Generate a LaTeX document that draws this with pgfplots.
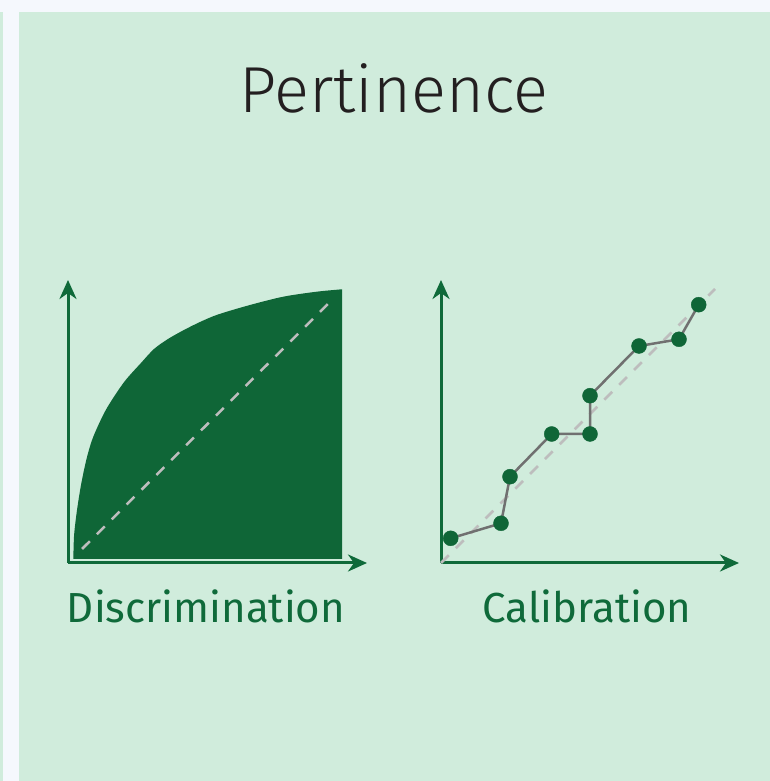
\documentclass[border=0pt]{standalone}
\usepackage{fontspec}
\setmainfont{Fira Sans}
\newfontfamily\titlefont{Fira Sans Light}
\usepackage{pgfplots}
\pgfplotsset{compat=1.18}
\usetikzlibrary{arrows.meta}
\definecolor{bggreen}{HTML}{D0ECDC}
\definecolor{bglight}{HTML}{F5F8FD}
\definecolor{dkgreen}{HTML}{0F6637}
\definecolor{axgreen}{HTML}{0F6A3A}
\definecolor{dashgray}{HTML}{BDBDBD}
\definecolor{linegray}{HTML}{707070}
\definecolor{titlecol}{HTML}{231F20}
\pgfplotsset{
  miniaxis/.style={
    scale only axis, clip=false,
    axis lines=left,
    axis line style={line width=3pt, color=axgreen, -{Stealth[length=19pt,width=17pt,inset=6pt]}},
    xtick=\empty, ytick=\empty,
    anchor=south west,
  }
}
\begin{document}
\begin{tikzpicture}
\fill[bggreen] (0pt,0pt) rectangle (770pt,781pt);
\fill[bglight] (0pt,769pt) rectangle (770pt,781pt);
\fill[bglight] (3pt,0pt) rectangle (19pt,781pt);
% Left: discrimination
\begin{axis}[miniaxis, at={(68pt,218pt)}, width=299pt, height=283pt, xmin=0, xmax=299, ymin=-4, ymax=279]
\addplot[fill=dkgreen, draw=none, smooth] coordinates {
 (5.3,0) (6,22.3) (7.7,39) (10,55.7) (12.7,72.3) (16,89) (20,105.7) (25.3,122.3)
 (36,145.7) (46,162.3) (57.7,179) (72.7,195.7) (86,210) (100,220) (115,228.5)
 (132,237) (150,244.5) (182,254) (215.3,262.3) (248.7,267.3) (274,269.7)} \closedcycle;
\addplot[dashgray, line width=2.5pt, dash pattern=on 11pt off 10pt] coordinates {(14,10) (264,259)};
\end{axis}
% Right: calibration
\begin{axis}[miniaxis, at={(441pt,218pt)}, width=298pt, height=283pt, xmin=0, xmax=298, ymin=0, ymax=283]
\addplot[dashgray, line width=2.5pt, dash pattern=on 11pt off 10pt] coordinates {(0,0) (274,274)};
\addplot[linegray, line width=2.5pt, mark=none] coordinates {
 (9.7,24.7) (60,39.7) (69,86.3) (110.7,129) (149,129) (149,167.3)
 (198,217) (238,223.7) (257.7,258.3)};
\addplot[only marks, mark=*, mark size=7.5pt, color=dkgreen, fill=dkgreen] coordinates {
 (9.7,24.7) (60,39.7) (69,86.3) (110.7,129) (149,129) (149,167.3)
 (198,217) (238,223.7) (257.7,258.3)};
\end{axis}
\node[anchor=base, text=titlecol, font=\titlefont\fontsize{65}{70}\selectfont, inner sep=0pt] at (394pt,668pt) {Pertinence};
\node[anchor=base, text=axgreen, font=\fontsize{42}{46}\selectfont, inner sep=0pt] at (206pt,158.5pt) {Discrimination};
\node[anchor=base, text=axgreen, font=\fontsize{42}{46}\selectfont, inner sep=0pt] at (587pt,158.5pt) {Calibration};
\end{tikzpicture}
\end{document}
